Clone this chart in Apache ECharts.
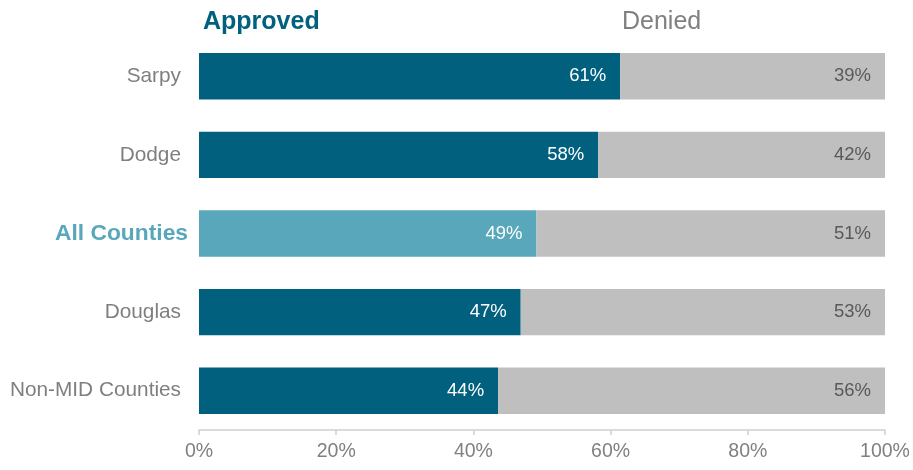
<!DOCTYPE html>
<html><head><meta charset="utf-8">
<script src="https://cdn.jsdelivr.net/npm/echarts@6/dist/echarts.min.js"></script>
<style>html,body{margin:0;padding:0;background:#fff}#c{width:913px;height:470px}</style>
</head><body><div id="c"></div>
<script>
var categories = ['Sarpy', 'Dodge', 'All Counties', 'Douglas', 'Non-MID Counties'];
var approved = [61.4, 58.2, 49.2, 46.9, 43.6];
var denied = [38.6, 41.8, 50.8, 53.1, 56.4];
var xTicks = [0, 20, 40, 60, 80, 100];
var highlight = 'All Counties';

var dark = '#02607f', light = '#58a7bb', grey = '#bfbfbf';
var ff = 'Liberation Sans, Arial';
var chart = echarts.init(document.getElementById('c'));
chart.setOption({
  animation: false,
  title: [
    {text: 'Approved', left: 198, top: 5, textStyle: {color: '#02607f', fontSize: 25, fontWeight: 'bold', fontFamily: ff}},
    {text: 'Denied', left: 617, top: 5, textStyle: {color: '#808080', fontSize: 25, fontWeight: 'normal', fontFamily: ff}}
  ],
  grid: {left: 199, right: 28, top: 37, bottom: 40, containLabel: false},
  xAxis: {
    type: 'value', min: xTicks[0], max: xTicks[xTicks.length - 1], interval: 20,
    axisLine: {show: true, lineStyle: {color: '#d0d0d0', width: 1.5}},
    axisTick: {show: true, length: 5, lineStyle: {color: '#d0d0d0', width: 1.5}},
    splitLine: {show: false},
    axisLabel: {formatter: '{value}%', color: '#808080', fontSize: 19.5, margin: 12, fontFamily: ff}
  },
  yAxis: {
    type: 'category', data: categories, inverse: true,
    axisLine: {show: false}, axisTick: {show: false},
    axisLabel: {
      margin: 11, fontFamily: ff,
      formatter: function (v) { return v === highlight ? '{h|' + v + '}' : '{n|' + v + '}'; },
      rich: {
        n: {color: '#7f7f7f', fontSize: 20.8, padding: [0, 7, 0, 0], fontFamily: ff},
        h: {color: light, fontSize: 22.8, fontWeight: 'bold', fontFamily: ff}
      }
    }
  },
  series: [
    {
      name: 'Approved', type: 'bar', stack: 't', barCategoryGap: '41%',
      data: approved.map(function (v, i) {
        return {value: v, itemStyle: {color: categories[i] === highlight ? light : dark}};
      }),
      label: {show: true, position: 'insideRight', distance: 14, color: '#ffffff', fontSize: 18.5,
        fontFamily: ff, formatter: function (p) { return Math.round(p.value) + '%'; }}
    },
    {
      name: 'Denied', type: 'bar', stack: 't', barCategoryGap: '41%',
      data: denied, itemStyle: {color: grey},
      label: {show: true, position: 'insideRight', distance: 14, color: '#595959', fontSize: 18.5,
        fontFamily: ff, formatter: function (p) { return Math.round(p.value) + '%'; }}
    }
  ]
});
</script></body></html>
